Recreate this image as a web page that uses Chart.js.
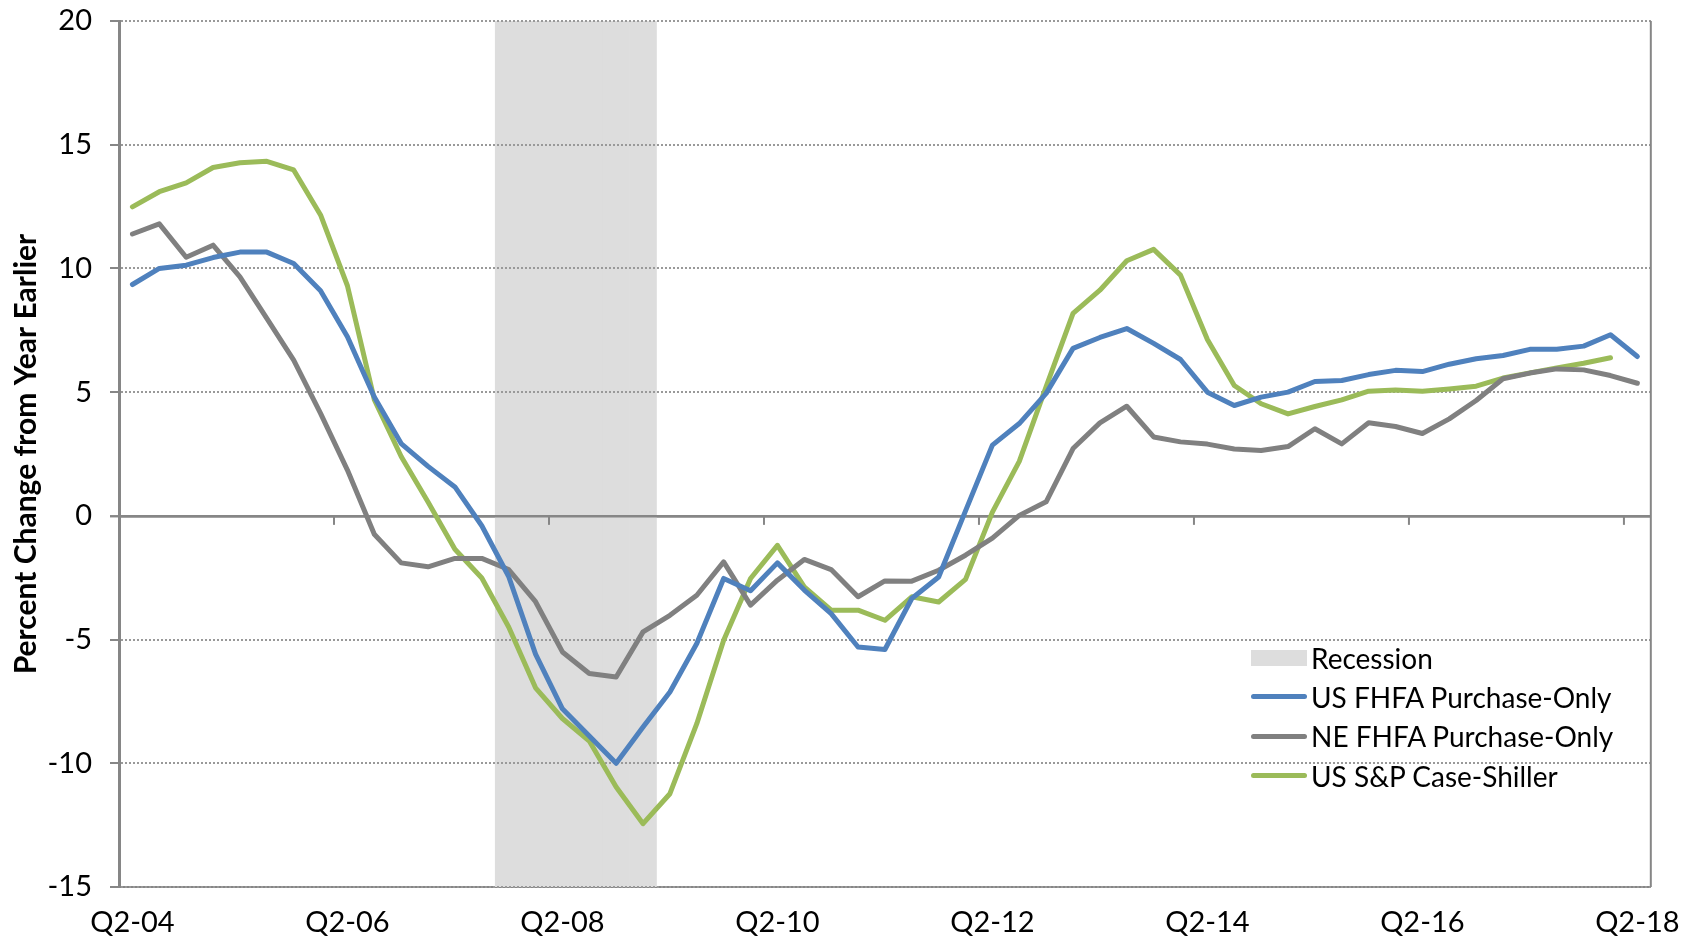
<!DOCTYPE html>
<html>
<head>
<meta charset="utf-8">
<script src="https://cdn.jsdelivr.net/npm/chart.js@4.4.1/dist/chart.umd.min.js"></script>
<style>
  body { margin: 0; background: #fff; }
  #wrap { position: relative; width: 1698px; height: 938px; }
  #legend { position: absolute; left: 1251px; top: 638px; font-family: Lato, sans-serif; font-size: 28px; color: #000; }
  .item { display: flex; align-items: center; height: 39.3px; white-space: nowrap; }
  .swatch { width: 56px; margin-right: 4px; }
</style>
</head>
<body>
<div id="wrap">
  <canvas id="chart" width="1698" height="938"></canvas>
  <div id="legend"></div>
</div>
<script>
const quarters = [
  'Q2-04','Q3-04','Q4-04','Q1-05','Q2-05','Q3-05','Q4-05','Q1-06',
  'Q2-06','Q3-06','Q4-06','Q1-07','Q2-07','Q3-07','Q4-07','Q1-08',
  'Q2-08','Q3-08','Q4-08','Q1-09','Q2-09','Q3-09','Q4-09','Q1-10',
  'Q2-10','Q3-10','Q4-10','Q1-11','Q2-11','Q3-11','Q4-11','Q1-12',
  'Q2-12','Q3-12','Q4-12','Q1-13','Q2-13','Q3-13','Q4-13','Q1-14',
  'Q2-14','Q3-14','Q4-14','Q1-15','Q2-15','Q3-15','Q4-15','Q1-16',
  'Q2-16','Q3-16','Q4-16','Q1-17','Q2-17','Q3-17','Q4-17','Q1-18',
  'Q2-18'
];
const xTickLabels = ['Q2-04','Q2-06','Q2-08','Q2-10','Q2-12','Q2-14','Q2-16','Q2-18'];
const yTicks = [-15, -10, -5, 0, 5, 10, 15, 20];

const recessionQuarters = ['Q4-07','Q1-08','Q2-08','Q3-08','Q4-08','Q1-09'];

const usFhfa = [9.35, 10.0, 10.13, 10.44, 10.66, 10.66, 10.2, 9.1, 7.24, 4.8, 2.92, 2.0, 1.17, -0.4, -2.45, -5.59,
  -7.8, -8.9, -10.0, -8.53, -7.12, -5.16, -2.53, -3.03, -1.9, -3.0, -3.95, -5.3, -5.4, -3.34, -2.47, 0.2,
  2.86, 3.73, 4.95, 6.77, 7.21, 7.57, 6.97, 6.32, 5.0, 4.46, 4.8, 5.0, 5.43, 5.47, 5.71, 5.88,
  5.83, 6.13, 6.35, 6.48, 6.73, 6.73, 6.86, 7.32, 6.44];
const neFhfa = [11.39, 11.8, 10.45, 10.94, 9.66, 7.98, 6.29, 4.14, 1.85, -0.74, -1.9, -2.06, -1.72, -1.72, -2.17, -3.47,
  -5.5, -6.37, -6.51, -4.69, -4.02, -3.21, -1.86, -3.61, -2.6, -1.76, -2.17, -3.27, -2.63, -2.64, -2.2, -1.59,
  -0.9, 0.02, 0.57, 2.72, 3.76, 4.43, 3.19, 2.99, 2.9, 2.7, 2.64, 2.8, 3.52, 2.91, 3.76, 3.61,
  3.33, 3.92, 4.66, 5.54, 5.77, 5.94, 5.9, 5.67, 5.36];
const caseShiller = [12.49, 13.1, 13.46, 14.08, 14.27, 14.33, 13.98, 12.16, 9.3, 4.7, 2.4, 0.56, -1.35, -2.51, -4.49, -6.95,
  -8.19, -9.1, -10.96, -12.44, -11.23, -8.4, -5.03, -2.53, -1.19, -2.87, -3.81, -3.81, -4.22, -3.27, -3.48, -2.57,
  0.15, 2.2, 5.22, 8.18, 9.12, 10.31, 10.77, 9.73, 7.13, 5.27, 4.53, 4.12, 4.42, 4.69, 5.04, 5.09,
  5.04, 5.13, 5.24, 5.57, 5.78, 5.98, 6.17, 6.39, null];

const yMin = yTicks[0];
const yMax = yTicks[yTicks.length - 1];
const axisGray = '#868686';

const series = [
  { label: 'US FHFA Purchase-Only', data: usFhfa, color: '#4f81bd' },
  { label: 'NE FHFA Purchase-Only', data: neFhfa, color: '#808080' },
  { label: 'US S&P Case-Shiller', data: caseShiller, color: '#9bbb59' }
];

const recessionData = quarters.map(q => recessionQuarters.includes(q) ? [yMin, yMax] : null);

const datasets = [{
  type: 'bar',
  label: 'Recession',
  data: recessionData,
  backgroundColor: '#dddddd',
  barPercentage: 1,
  categoryPercentage: 1,
  order: 10
}];
series.forEach(s => {
  datasets.push({
    type: 'line',
    label: s.label,
    data: s.data,
    borderColor: s.color,
    borderWidth: 5,
    pointRadius: 0,
    tension: 0,
    borderCapStyle: 'round',
    borderJoinStyle: 'round',
    spanGaps: false,
    order: 0
  });
});

// gridlines again over the recession shade, tick marks on the zero line, right frame edge
const frame = {
  id: 'frame',
  afterDatasetDraw(chart, args) {
    if (args.index === 0) chart.scales.y.drawGrid(chart.chartArea);
  },
  afterDraw(chart) {
    const { ctx, chartArea } = chart;
    const x = chart.scales.x;
    const y0 = chart.scales.y.getPixelForValue(0);
    ctx.save();
    ctx.strokeStyle = axisGray;
    ctx.lineWidth = 2;
    ctx.beginPath();
    ctx.moveTo(chartArea.right, chartArea.top);
    ctx.lineTo(chartArea.right, chartArea.bottom);
    ctx.stroke();
    quarters.forEach((q, i) => {
      if (i === 0 || !xTickLabels.includes(q)) return;
      const px = (x.getPixelForValue(i - 1) + x.getPixelForValue(i)) / 2;
      ctx.beginPath();
      ctx.moveTo(px, y0);
      ctx.lineTo(px, y0 + 9);
      ctx.stroke();
    });
    ctx.restore();
  }
};

new Chart(document.getElementById('chart'), {
  data: { labels: quarters, datasets: datasets },
  options: {
    responsive: false,
    animation: false,
    devicePixelRatio: 1,
    layout: { padding: { top: 21, right: 46, left: 0, bottom: 0 } },
    plugins: {
      legend: { display: false },
      tooltip: { enabled: false }
    },
    scales: {
      x: {
        type: 'category',
        offset: true,
        grid: { display: false, drawTicks: false },
        border: { display: true, color: axisGray, width: 2 },
        ticks: {
          autoSkip: false,
          maxRotation: 0,
          minRotation: 0,
          padding: 18,
          color: '#000',
          font: { family: 'Lato', size: 29 },
          callback: function (value) {
            const lab = this.getLabelForValue(value);
            return xTickLabels.includes(lab) ? lab : '';
          }
        },
        afterFit: scale => { scale.height = 51; }
      },
      y: {
        min: yMin,
        max: yMax,
        ticks: {
          stepSize: 5,
          padding: 18,
          color: '#000',
          font: { family: 'Lato', size: 29 }
        },
        grid: {
          color: ctx => ctx.tick && ctx.tick.value === 0 ? axisGray : '#999999',
          lineWidth: ctx => ctx.tick && ctx.tick.value === 0 ? 2.5 : 2,
          drawTicks: true,
          tickLength: 9,
          tickColor: axisGray,
          tickWidth: 2
        },
        border: {
          display: true,
          color: axisGray,
          width: 3,
          dash: ctx => ctx.tick && ctx.tick.value === 0 ? [] : [2, 2]
        },
        title: {
          display: true,
          text: 'Percent Change from Year Earlier',
          color: '#000',
          font: { family: 'Lato', size: 30, weight: 'bold' },
          padding: { top: 8, bottom: 0 }
        },
        afterFit: scale => {
          scale.width = 119;
          scale.paddingTop = 0;
          scale.paddingBottom = 0;
        }
      }
    }
  },
  plugins: [frame]
});

// legend inside the plot, lower right
const legend = document.getElementById('legend');
const legendItems = [{ label: 'Recession', color: '#dddddd', box: true }]
  .concat(series.map(s => ({ label: s.label, color: s.color, box: false })));
legendItems.forEach(item => {
  const row = document.createElement('div');
  row.className = 'item';
  const sw = document.createElement('span');
  sw.className = 'swatch';
  sw.style.background = item.color;
  sw.style.height = item.box ? '16px' : '5px';
  sw.style.borderRadius = item.box ? '0' : '3px';
  const txt = document.createElement('span');
  txt.textContent = item.label;
  row.append(sw, txt);
  legend.appendChild(row);
});
</script>
</body>
</html>
